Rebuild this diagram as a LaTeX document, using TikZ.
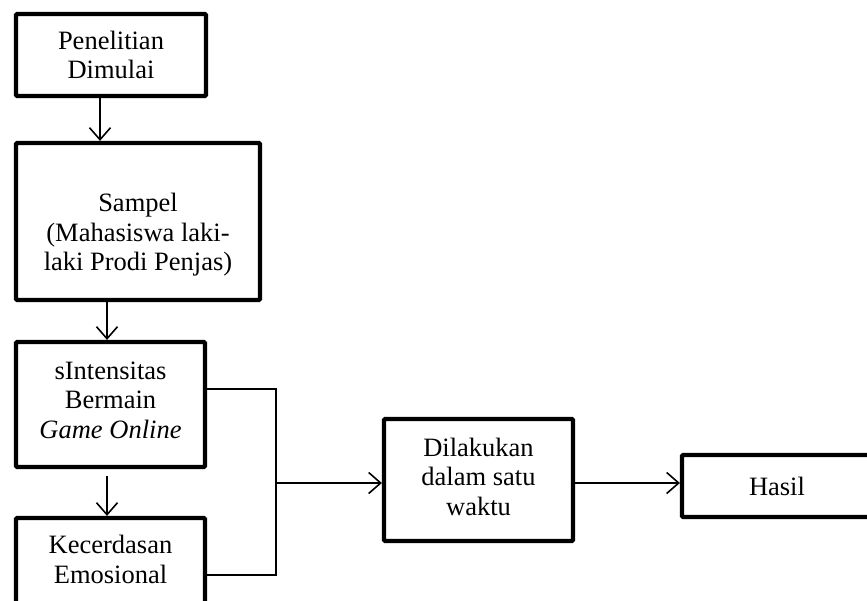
\documentclass[tikz,border=0pt]{standalone}
\usepackage{fontspec}
\setmainfont{Liberation Serif}
\usetikzlibrary{arrows.meta}
\begin{document}
\begin{tikzpicture}[x=1pt,y=-1pt,
  box/.style={draw, line width=4.2pt, rounded corners=1pt, align=center, inner sep=0pt,
              font=\fontsize{26.5}{29.5}\selectfont},
  txt/.style={align=center, inner sep=0pt, font=\fontsize{26.5}{29.5}\selectfont},
  conn/.style={line width=1.6pt},
  arr/.style={line width=1.6pt, -{Straight Barb[length=12pt,width=21pt,line width=1.6pt]}}]
\useasboundingbox (0,0) rectangle (867,600);
\clip (0,0) rectangle (867,600);
% boxes
\node[box, minimum width=190pt, minimum height=82pt] (b1) at (111,55) {Penelitian\\Dimulai};
\node[box, minimum width=244pt, minimum height=157pt] (b2) at (138,221.5) {};
\node[txt] (b2t) at (138,235) {Sampel\\(Mahasiswa laki-\\laki Prodi Penjas)};
\node[box, minimum width=189pt, minimum height=125pt] (b3) at (110.5,404.5) {};
\node[txt] (b3t) at (110.5,400) {sIntensitas\\Bermain\\\textit{Game Online}};
\node[box, minimum width=189pt, minimum height=104pt] (b4) at (110.5,570) {};
\node[txt] (b4t) at (110.5,559.5) {Kecerdasan\\Emosional};
\node[box, minimum width=189pt, minimum height=122pt] (b5) at (478.5,480) {};
\node[txt] (b5t) at (478.5,476.5) {Dilakukan\\dalam satu\\waktu};
\node[box, minimum width=190pt, minimum height=62pt] (b6) at (777,486) {Hasil};
% helper coordinates
\coordinate (xa) at (100,0);
\coordinate (xb) at (107,0);
\coordinate (ya) at (0,389);
\coordinate (yb) at (0,575);
\coordinate (j) at (276,483);
% connectors
\draw[arr] (b1.south -| xa) -- (b2.north -| xa);
\draw[arr] (b2.south -| xb) -- (b3.north -| xb);
\draw[arr] ([yshift=-7pt]b3.south -| xb) -- (b4.north -| xb);
\draw[conn] (b3.east |- ya) -| (j);
\draw[conn] (b4.east |- yb) -| (j);
\draw[arr] (j) -- (b5.west |- j);
\draw[arr] (b5.east |- j) -- (b6.west |- j);
\end{tikzpicture}
\end{document}
